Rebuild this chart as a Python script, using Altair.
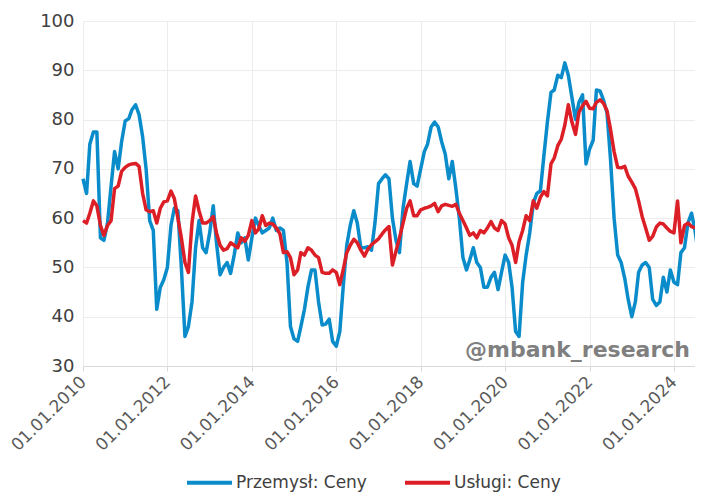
import altair as alt
import pandas as pd

start_month = "2010-01-01"

przemysl = [68, 65, 75, 77.5, 77.5, 56, 55.5, 59, 66.5, 73.5, 70, 75.5,
            79.7, 80.2, 82, 83, 81, 76.5, 70, 59.5, 57.5, 41.5, 46, 47.5,
            50, 58.5, 62, 61.5, 50, 36, 38, 43, 54, 59.5, 54, 53,
            57, 62.5, 55, 48.5, 50, 51, 48.8, 52.5, 57, 55, 56, 51.5,
            56, 60, 58.5, 57, 57.5, 58, 60, 57.5, 58, 57.5, 51, 38,
            35.5, 35, 38, 41.5, 46, 49.5, 49.5, 43, 38.3, 38.5, 39.5, 35,
            34, 37, 46, 54.5, 58.5, 61.5, 59, 54, 54, 54.2, 53.5, 59,
            67, 68, 68.8, 68, 60, 55.5, 53, 62, 67, 71.5, 67, 66.5,
            70, 73.5, 75, 78.5, 79.5, 78.5, 75.5, 73, 68, 71.5, 66, 60,
            52, 49.5, 51.5, 54, 51, 50, 46, 46, 48, 49, 45.5, 49,
            52.5, 51, 46, 37, 36, 47, 52.5, 57, 63, 65, 65.5, 72.5,
            79.5, 85.5, 86, 89, 88.5, 91.5, 89, 84.5, 80, 83.5, 85, 71,
            74, 75.8, 86, 85.8, 84, 81.3, 72, 60, 52.5, 51, 47.8, 43.5,
            40, 43, 49, 50.5, 51, 50, 43.5, 42.3, 43, 48, 45, 49.5,
            47, 46.5, 53, 54, 59, 61, 57.5, 52.5]

uslugi = [59.5, 59, 61, 63.5, 62.5, 58.5, 56.5, 58.5, 59.5, 66, 66.5, 69.5,
          70.3, 70.8, 71, 71.1, 70.5, 65, 61.7, 61.3, 61.5, 59, 62, 63.3,
          63.5, 65.5, 64, 60, 56, 51, 49, 59, 64.5, 61.5, 59, 59,
          59.5, 60.3, 57, 54.5, 53.5, 53.8, 55, 54.5, 54, 56, 55.3, 56.5,
          59.5, 57, 57.8, 60.5, 58.5, 59, 58.8, 58, 56.8, 53, 53.2, 52,
          48.5, 49.5, 53, 52.5, 54, 53.5, 52.5, 52, 49, 48.8, 48.8, 49.5,
          49, 46.5, 49.5, 53, 54.5, 55.7, 55, 53.5, 52.3, 53.7, 54.6, 55.2,
          55.8, 56.8, 57.6, 58.3, 50.5, 53.3, 56, 59, 62, 63.5, 60.5, 60.5,
          61.7, 62, 62.2, 62.5, 63, 61.3, 62.5, 62.8, 62.6, 62.4, 62.8, 61,
          59.5, 58, 56.5, 57, 56, 57.5, 57, 58, 59.3, 58, 57.5, 59.5,
          58.8, 56, 54.5, 51, 55.2, 57.5, 60.5, 59.5, 63.5, 62, 64.2, 65.4,
          64.5, 71, 72.2, 74.7, 76, 78.9, 83, 79.5, 77, 81.5, 82.8, 83.7,
          82.3, 82.2, 83.5, 84, 83.3, 81.8, 78, 73.5, 70.3, 70.2, 70.5, 68.5,
          67.3, 66, 63.5, 60.3, 58, 55.5, 56.3, 58.2, 59, 58.8, 58, 57.3,
          57, 63.5, 55, 58.5, 59, 58.3, 58]

series_names = ["Przemysł: Ceny", "Usługi: Ceny"]
series_colors = ["#0a8ccb", "#dc1f26"]
tick_years = ["2010", "2012", "2014", "2016", "2018", "2020", "2022", "2024"]
y_ticks = [30, 40, 50, 60, 70, 80, 90, 100]
watermark = "@mbank_research"

dates = pd.date_range(start=start_month, periods=len(przemysl), freq="MS")
dates_u = pd.date_range(start=start_month, periods=len(uslugi), freq="MS")
df = pd.concat([
    pd.DataFrame({"date": dates, "value": przemysl, "series": series_names[0]}),
    pd.DataFrame({"date": dates_u, "value": uslugi, "series": series_names[1]}),
])

tick_values = [alt.DateTime(year=int(y), month=1, date=1) for y in tick_years]

FONT = "DejaVu Sans"

lines = alt.Chart(df).mark_line(strokeWidth=3.5, strokeJoin="round").encode(
    x=alt.X("date:T",
            scale=alt.Scale(domain=[alt.DateTime(year=2010, month=1, date=1),
                                    alt.DateTime(year=2024, month=7, date=1)],
                            nice=False),
            axis=alt.Axis(values=tick_values, format="%d.%m.%Y", labelAngle=-45,
                          labelAlign="right", labelBaseline="middle",
                          labelFontSize=17, labelColor="#595959", labelFont=FONT,
                          labelPadding=8, tickSize=5, tickColor="#d9d9d9",
                          domainColor="#d9d9d9", gridColor="#ececec",
                          title=None)),
    y=alt.Y("value:Q",
            scale=alt.Scale(domain=[30, 100], nice=False, zero=False),
            axis=alt.Axis(values=y_ticks, labelFontSize=18, labelColor="#404040",
                          labelFont=FONT, labelPadding=9, ticks=False, domain=False,
                          gridColor="#ececec", title=None)),
    color=alt.Color("series:N",
                    scale=alt.Scale(domain=series_names, range=series_colors),
                    legend=alt.Legend(title=None, orient="none", legendX=102, legendY=437,
                                      direction="horizontal", symbolType="stroke",
                                      symbolSize=2025, symbolStrokeWidth=4,
                                      labelFontSize=17, labelFont=FONT,
                                      labelColor="#404040", columnPadding=30,
                                      labelOffset=2)),
    detail="series:N",
)

wm = alt.Chart(pd.DataFrame({"t": [watermark]})).mark_text(
    align="right", baseline="bottom", fontSize=22, fontWeight="bold",
    font=FONT, color="#7f7f7f"
).encode(text="t:N", x=alt.value(607), y=alt.value(341))

chart = (lines + wm).properties(
    width=612, height=345,
    autosize=alt.AutoSizeParams(type="none"),
    padding={"left": 75, "top": 13, "right": 0, "bottom": 129},
).configure_view(stroke=None).configure_axis(gridWidth=1)

chart.save("out.html", embed_options={"renderer": "svg", "actions": False})
